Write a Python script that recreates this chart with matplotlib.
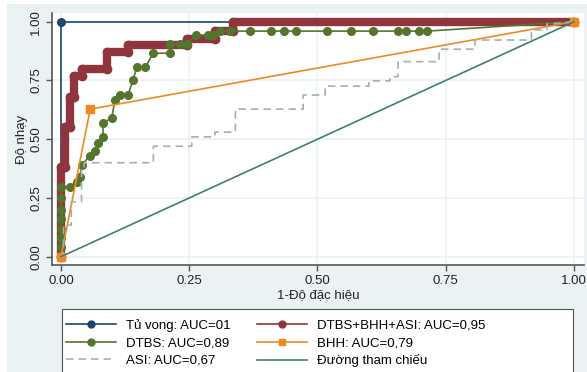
import matplotlib
matplotlib.use("Agg")
import matplotlib.pyplot as plt
from matplotlib.lines import Line2D
from matplotlib.patches import Rectangle

plt.rcParams['font.family'] = ['Liberation Sans', 'DejaVu Sans']

# ---- data ----
tuvong_x = [0.0, 0.0, 1.0]
tuvong_y = [0.0, 1.0, 1.0]

combo_x = [0.0, 0.0, 0.008, 0.008, 0.017, 0.017, 0.025, 0.025, 0.04, 0.04, 0.09, 0.09,
           0.13, 0.13, 0.245, 0.245, 0.30, 0.30, 0.335, 0.335, 1.0]
combo_y = [0.0, 0.38, 0.38, 0.55, 0.55, 0.68, 0.68, 0.77, 0.77, 0.80, 0.80, 0.87,
           0.87, 0.90, 0.90, 0.925, 0.925, 0.96, 0.96, 1.0, 1.0]

dtbs_x = [0.0, 0.0, 0.0, 0.0, 0.0, 0.0, 0.0, 0.0, 0.017, 0.032, 0.037, 0.04, 0.057, 0.066,
          0.073, 0.082, 0.082, 0.099, 0.105, 0.115, 0.131, 0.14, 0.148, 0.164, 0.18, 0.212,
          0.212, 0.232, 0.245, 0.263, 0.287, 0.297, 0.31, 0.33, 0.368, 0.41, 0.435, 0.458,
          0.518, 0.565, 0.608, 0.656, 0.672, 0.697, 0.714, 1.0]
dtbs_y = [0.0, 0.04, 0.08, 0.12, 0.16, 0.20, 0.25, 0.298, 0.298, 0.32, 0.34, 0.39, 0.43, 0.45,
          0.485, 0.51, 0.57, 0.59, 0.667, 0.69, 0.69, 0.75, 0.806, 0.806, 0.866, 0.866,
          0.905, 0.905, 0.905, 0.943, 0.943, 0.943, 0.96, 0.96, 0.96, 0.96, 0.96, 0.96,
          0.96, 0.96, 0.96, 0.96, 0.96, 0.96, 0.96, 1.0]

bhh_x = [0.0, 0.057, 1.0]
bhh_y = [0.0, 0.628, 1.0]

asi_x = [0.0, 0.005, 0.005, 0.02, 0.02, 0.04, 0.04, 0.045, 0.045, 0.18, 0.18, 0.255, 0.255,
         0.30, 0.30, 0.34, 0.34, 0.472, 0.472, 0.515, 0.515, 0.60, 0.60, 0.641, 0.641,
         0.657, 0.657, 0.737, 0.737, 0.807, 0.807, 0.917, 0.917, 0.947, 0.947, 1.0]
asi_y = [0.0, 0.0, 0.135, 0.135, 0.234, 0.234, 0.369, 0.369, 0.40, 0.40, 0.47, 0.47, 0.51,
         0.51, 0.53, 0.53, 0.628, 0.628, 0.688, 0.688, 0.726, 0.726, 0.748, 0.748, 0.766,
         0.766, 0.83, 0.83, 0.883, 0.883, 0.922, 0.922, 0.965, 0.965, 0.99, 1.0]

ref_x = [0.0, 1.0]
ref_y = [0.0, 1.0]

labels = ["Tủ vong: AUC=01", "DTBS+BHH+ASI: AUC=0,95", "DTBS: AUC=0,89",
          "BHH: AUC=0,79", "ASI: AUC=0,67", "Đường tham chiếu"]
xticks = [0.0, 0.25, 0.5, 0.75, 1.0]
tick_labels = ["0.00", "0.25", "0.50", "0.75", "1.00"]

# ---- colours ----
c_navy = "#1a476f"
c_maroon = "#90353b"
c_green = "#55752f"
c_orange = "#ee8a1e"
c_asi = "#a3b1b1"
c_ref = "#3d7f79"
bg = "#eaf2f3"

W, H = 587, 372
fig = plt.figure(figsize=(W / 100, H / 100), dpi=100, facecolor="white")
fig.patches.append(Rectangle((7 / W, 0), 1 - 7 / W, (H - 4) / H, transform=fig.transFigure,
                             facecolor=bg, edgecolor="none", zorder=-10))

ax = fig.add_axes([52 / W, (H - 265) / H, (584 - 52) / W, (265 - 13) / H])
ax.set_facecolor("white")

ax.plot(tuvong_x, tuvong_y, color=c_navy, lw=1.2, marker="o", ms=5.5, zorder=3)
ax.plot(combo_x, combo_y, color=c_maroon, lw=6, solid_joinstyle="round",
        solid_capstyle="round", zorder=4)
ax.plot(combo_x, combo_y, color=c_maroon, lw=0, marker="o", ms=6, zorder=4)
ax.plot(dtbs_x, dtbs_y, color=c_green, lw=1.2, marker="o", ms=5.5, zorder=5)
ax.plot(bhh_x, bhh_y, color=c_orange, lw=1.2, marker="s", ms=5.5, zorder=6)
ax.plot(asi_x, asi_y, color=c_asi, lw=1.2, dashes=(4.5, 3), zorder=7)
ax.plot(ref_x, ref_y, color=c_ref, lw=1.2, zorder=8)

x_lo = -(61 - 52) / 513
x_hi = 1 + (584 - 574) / 513
y_hi = 1 + (21.7 - 13) / 235
y_lo = -(265 - 256.7) / 235
ax.set_xlim(x_lo, x_hi)
ax.set_ylim(y_lo, y_hi)

ax.set_xticks(xticks)
ax.set_xticklabels(tick_labels)
ax.set_yticks(xticks)
ax.set_yticklabels(tick_labels, rotation=90, va="center")
ax.tick_params(axis="both", direction="out", length=4, width=1, color="#555555",
               labelsize=9.5, labelcolor="#222222", pad=3)
ax.grid(True, color=bg, lw=1.2, zorder=0)
ax.set_axisbelow(True)
for s in ["top", "right"]:
    ax.spines[s].set_visible(False)
for s in ["left", "bottom"]:
    ax.spines[s].set_color("#555555")
    ax.spines[s].set_linewidth(1.2)

ax.set_xlabel("1-Độ đặc hiệu", fontsize=9.5, labelpad=2, color="#222222")
ax.set_ylabel("Độ nhạy", fontsize=9.5, labelpad=2, color="#222222")

# legend frame (extends past the bottom edge like the reference)
fig.patches.append(Rectangle((62 / W, -10 / H), (573 - 62) / W, (H - 309 + 10) / H,
                             transform=fig.transFigure, facecolor="white",
                             edgecolor="#555555", lw=0.8, zorder=1))

handles = [
    Line2D([], [], color=c_navy, lw=1.2, marker="o", ms=5),
    Line2D([], [], color=c_green, lw=1.2, marker="o", ms=5),
    Line2D([], [], color=c_asi, lw=1.2, dashes=(4.5, 3)),
    Line2D([], [], color=c_maroon, lw=1.2, marker="o", ms=5),
    Line2D([], [], color=c_orange, lw=1.2, marker="s", ms=5),
    Line2D([], [], color=c_ref, lw=1.2),
]
leg_labels = [labels[0], labels[2], labels[4], labels[1], labels[3], labels[5]]
leg = fig.legend(handles, leg_labels, loc="upper left", ncol=2,
                 bbox_to_anchor=(66 / W, (H - 319) / H),
                 fontsize=9.5, handlelength=3.8, handletextpad=0.75,
                 labelspacing=0.38, borderaxespad=0, frameon=False,
                 borderpad=0, columnspacing=2.0)
leg.set_zorder(2)

fig.savefig("out.png", dpi=100, facecolor="white")
